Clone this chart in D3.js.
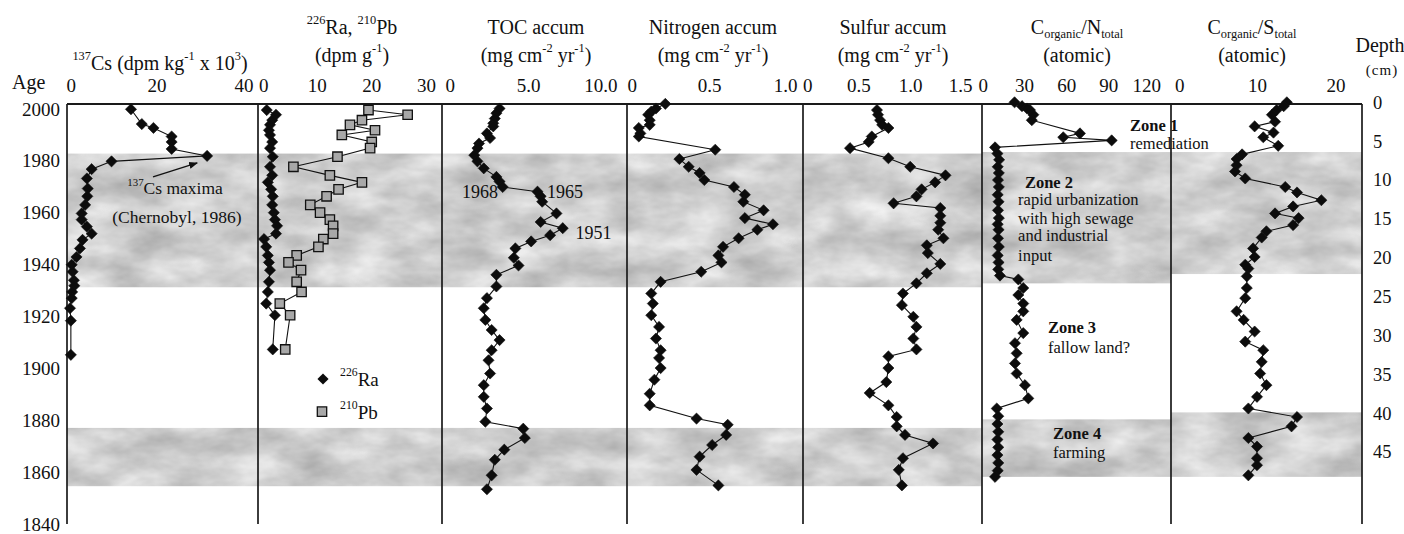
<!DOCTYPE html>
<html><head><meta charset="utf-8">
<script src="https://cdn.jsdelivr.net/npm/d3@7"></script>
<style>
body{margin:0;background:#fff}
text{font-family:"Liberation Serif","Times New Roman",serif;fill:#111}
</style>
</head><body>
<svg id="c" width="1404" height="534"></svg>
<script>
// ---------------- DATA ----------------
const ageTicks = [2000,1980,1960,1940,1920,1900,1880,1860,1840];
const depthTicks = [0,5,10,15,20,25,30,35,40,45];

const csDepth = [0.9,2.8,3.3,4.4,5.1,6.0,6.9,7.6,8.6,9.8,11.1,12.1,13.2,14.3,15.1,16.0,16.9,17.7,18.8,19.9,20.9,21.8,22.9,23.6,24.4,25.2,26.5,28.1,32.5];
const csValue = [14.1,16.6,19.3,23.5,23.5,23.5,31.7,9.6,5.0,3.9,4.1,4.0,3.5,2.7,2.7,3.9,5.0,2.9,2.3,1.5,0.4,0.6,0.9,1.0,0.5,0.4,0.0,0.2,0.2];

const raDepth = [1.0,1.6,2.3,2.9,3.6,4.2,5.1,5.9,7.0,8.3,9.4,10.3,11.2,12.1,13.2,14.2,15.1,15.9,16.9,17.6,18.6,19.7,20.6,21.6,23.1,24.4,25.9,27.4,31.8];
const raValue = [0.8,2.5,1.8,1.4,1.2,1.4,1.8,1.4,1.9,1.4,1.8,1.0,1.6,1.9,1.8,2.1,2.3,2.7,2.5,0.3,0.7,1.0,1.2,1.4,1.2,1.0,0.7,2.3,1.9];
const pbValue = [19.5,26.7,18.3,16.1,20.7,14.6,20.1,19.8,13.8,5.7,12.4,18.3,14.0,11.8,8.8,10.6,12.4,13.0,13.0,11.2,10.3,6.3,4.8,7.1,6.3,7.2,3.2,5.1,4.2];

const tocDepth = [0.8,1.4,2.1,2.7,3.1,4.0,4.6,5.3,5.9,6.8,7.6,8.5,9.6,10.2,10.9,11.5,12.1,12.8,14.3,15.4,16.2,17.1,17.9,18.8,20.0,21.0,22.2,23.7,25.2,26.5,28.0,29.3,30.6,31.9,33.2,34.9,36.4,37.9,39.4,41.1,42.0,43.2,44.7,46.0,48.0,49.8];
const tocValue = [3.2,3.0,2.9,2.8,2.8,2.4,2.6,1.9,1.8,1.6,1.8,2.2,3.0,3.2,3.4,5.6,5.8,5.9,6.8,5.8,7.2,6.4,5.2,4.2,4.1,4.4,3.0,3.0,2.4,2.2,2.3,2.7,3.2,2.7,2.5,2.6,2.2,2.2,2.4,2.3,4.7,4.8,3.5,2.9,2.7,2.4];

const nDepth = [0.2,0.8,1.2,1.6,2.3,2.9,3.3,4.0,4.4,6.1,7.3,8.3,9.1,10.0,10.9,11.9,12.8,13.9,14.9,15.7,16.4,17.5,18.6,19.7,20.6,21.8,23.1,24.6,25.9,27.4,28.9,30.4,31.9,32.9,34.2,35.7,37.5,39.0,40.7,41.5,42.8,44.1,45.6,47.3,49.3];
const nValue = [0.22,0.16,0.13,0.11,0.12,0.12,0.05,0.06,0.05,0.54,0.31,0.37,0.44,0.47,0.66,0.73,0.72,0.85,0.73,0.91,0.81,0.69,0.59,0.56,0.58,0.45,0.19,0.13,0.14,0.13,0.18,0.16,0.19,0.18,0.19,0.15,0.12,0.12,0.42,0.62,0.61,0.52,0.44,0.42,0.56];

const sDepth = [1.0,1.6,2.3,2.9,3.3,4.4,5.1,5.9,7.2,8.3,9.4,10.3,11.2,12.1,13.0,13.6,14.6,15.5,16.4,17.5,18.4,19.4,20.8,22.0,23.3,24.6,26.1,27.6,28.9,30.4,31.8,32.7,34.2,36.0,37.4,39.0,40.5,41.7,42.8,43.9,45.8,47.3,49.3];
const sValue = [0.68,0.69,0.71,0.73,0.79,0.63,0.60,0.42,0.79,1.00,1.34,1.24,1.11,1.06,0.84,1.29,1.29,1.29,1.27,1.32,1.16,1.17,1.29,1.16,1.06,0.93,0.92,1.03,1.06,1.03,1.06,0.79,0.79,0.77,0.61,0.79,0.87,0.87,0.95,1.22,0.93,0.89,0.92];

const cnDepth = [0.0,0.5,0.8,1.0,1.6,2.3,4.0,4.5,4.9,5.8,6.6,7.4,8.3,9.1,10.0,10.9,11.9,12.8,13.9,14.9,15.7,16.4,17.5,18.6,19.7,20.6,21.5,22.3,22.8,23.9,24.8,25.9,26.9,28.0,29.7,31.0,32.3,33.6,34.9,36.4,38.1,39.4,40.4,41.4,42.4,43.4,44.4,45.4,46.4,47.4,48.2];
const cnValue = [23.2,28.5,32.1,34.2,36.6,35.5,69.8,57.9,92.4,9.3,11.0,12.2,11.2,12.0,11.4,12.0,11.2,11.8,11.4,12.0,11.2,11.8,11.4,12.0,11.2,11.8,11.6,12.8,25.9,29.4,25.9,29.4,29.4,24.7,29.4,23.5,24.7,23.5,24.7,30.6,33.0,10.5,11.6,11.0,11.6,11.0,11.6,11.0,11.6,11.2,9.3];

const csrDepth = [0,0.5,1.0,1.6,2.5,3.1,3.9,4.5,5.6,6.7,7.3,8.1,8.9,9.8,10.9,11.6,12.6,13.4,14.3,14.9,15.8,16.6,17.4,18.8,19.9,20.9,21.4,22.4,23.9,25.2,26.9,28.0,29.5,30.8,31.9,33.4,34.9,36.4,37.9,39.4,40.5,41.7,43.2,44.3,45.8,46.7,48.0];
const csrValue = [13.8,13.4,12.5,11.9,12.3,9.7,12.1,10.8,12.7,8.1,7.4,7.4,7.2,8.5,13.6,15.1,18.2,14.6,12.3,15.3,14.6,11.2,10.6,9.5,9.7,8.5,8.9,8.7,8.7,8.5,7.4,8.3,9.7,8.5,10.8,10.6,10.4,11.2,10.0,8.9,15.1,14.4,8.9,10.0,10.0,10.0,8.9];

// zone bands (depth cm) per panel
const zoneBands = [
  [[6.6,23.8],[41.9,49.4]],
  [[6.6,23.8],[41.9,49.4]],
  [[6.6,23.8],[41.9,49.4]],
  [[6.6,23.8],[41.9,49.4]],
  [[6.6,23.8],[41.9,49.4]],
  [[6.4,23.3],[40.8,48.2]],
  [[6.4,22.1],[39.9,48.2]]
];

// ---------------- LAYOUT ----------------
const panels = [
  {L:67,  R:258,  dom:[0,40],  rng:[70,243],       ticks:[0,20,40],        fmt:d=>String(d), tx:160, title:["^{137}Cs (dpm kg^{-1} x 10^{3})"], single:true},
  {L:258, R:442,  dom:[0,30],  rng:[262.4,425.6],  ticks:[0,10,20,30],     fmt:d=>String(d), tx:352, title:["^{226}Ra, ^{210}Pb","(dpm g^{-1})"]},
  {L:442, R:627,  dom:[0,10],  rng:[449,607],      ticks:[0,5,10],         fmt:d=>d===0?"0":d.toFixed(1), tx:536, title:["TOC accum","(mg cm^{-2} yr^{-1})"]},
  {L:627, R:803,  dom:[0,1],   rng:[631,787],      ticks:[0,0.5,1],        fmt:d=>d===0?"0":d.toFixed(1), tx:713, title:["Nitrogen accum","(mg cm^{-2} yr^{-1})"]},
  {L:803, R:982,  dom:[0,1.5], rng:[806.4,962.1],  ticks:[0,0.5,1,1.5],    fmt:d=>d===0?"0":d.toFixed(1), tx:893, title:["Sulfur accum","(mg cm^{-2} yr^{-1})"]},
  {L:982, R:1171, dom:[0,120], rng:[982,1150.4],   ticks:[0,30,60,90,120], fmt:d=>String(d), tx:1077, title:["C_{organic}/N_{total}","(atomic)"]},
  {L:1171,R:1362, dom:[0,20],  rng:[1178.5,1335.5],ticks:[0,10,20],        fmt:d=>String(d), tx:1252, title:["C_{organic}/S_{total}","(atomic)"]}
];
panels.forEach(p=>{ p.x = d3.scaleLinear().domain(p.dom).range(p.rng); });

const yD = d3.scaleLinear().domain([0,45]).range([102.3,452]);
const yA = d3.scaleLinear().domain([2000,1840]).range([109,524]);
const TOP = 104, BOT = 524;
const SERIF = '"Liberation Serif","Times New Roman",serif';

const svg = d3.select('#c');
const defs = svg.append('defs');
const f = defs.append('filter').attr('id','marble').attr('x',0).attr('y',0).attr('width',1).attr('height',1)
  .attr('color-interpolation-filters','sRGB');
f.append('feTurbulence').attr('type','fractalNoise').attr('baseFrequency','0.018 0.035').attr('numOctaves',4).attr('seed',11).attr('result','n');
f.append('feColorMatrix').attr('in','n').attr('type','matrix')
 .attr('values','0.34 0 0 0 0.64  0.34 0 0 0 0.64  0.34 0 0 0 0.64  0 0 0 0 1').attr('result','g');
f.append('feComposite').attr('in','g').attr('in2','SourceGraphic').attr('operator','in');
defs.append('marker').attr('id','arr').attr('viewBox','0 0 10 10').attr('refX',9).attr('refY',5)
  .attr('markerWidth',9).attr('markerHeight',9).attr('orient','auto').attr('markerUnits','userSpaceOnUse')
  .append('path').attr('d','M0,1 L10,5 L0,9 Z').attr('fill','#111');

// rich text helper: ^{..} superscript, _{..} subscript
function rich(g, x, y, str, size, anchor, weight){
  const t = g.append('text').attr('x',x).attr('y',y).attr('font-size',size)
    .attr('text-anchor',anchor||'middle').attr('dominant-baseline','central');
  if(weight) t.attr('font-weight',weight);
  str.split(/(\^\{[^}]*\}|_\{[^}]*\})/).filter(s=>s.length).forEach(s=>{
    if(s[0]==='^'){ t.append('tspan').attr('font-size',size*0.62).attr('baseline-shift','super').text(s.slice(2,-1)); }
    else if(s[0]==='_'){ t.append('tspan').attr('font-size',size*0.62).attr('baseline-shift','sub').text(s.slice(2,-1)); }
    else t.append('tspan').text(s);
  });
  return t;
}

// bands
const gb = svg.append('g');
panels.forEach((p,i)=>{
  zoneBands[i].forEach(b=>{
    gb.append('rect').attr('x',p.L).attr('width',p.R-p.L)
      .attr('y',yD(b[0])).attr('height',yD(b[1])-yD(b[0]))
      .attr('fill','#d0d0d0').attr('filter','url(#marble)');
  });
});

// frame
const gf = svg.append('g').attr('stroke','#1a1a1a');
gf.append('line').attr('x1',panels[0].L).attr('x2',panels[6].R).attr('y1',TOP).attr('y2',TOP).attr('stroke-width',2);
const edges = [panels[0].L].concat(panels.map(p=>p.R));
edges.forEach(x=>gf.append('line').attr('x1',x).attr('x2',x).attr('y1',TOP).attr('y2',BOT).attr('stroke-width',1.7));

// top axes and titles
panels.forEach((p,i)=>{
  const ax = d3.axisTop(p.x).tickValues(p.ticks).tickSize(0).tickPadding(0).tickFormat(p.fmt);
  const g = svg.append('g').attr('transform','translate(0,91.5)').call(ax);
  g.select('.domain').remove();
  g.selectAll('text').attr('font-family',SERIF).attr('font-size',19).attr('fill','#111');
  g.selectAll('.tick text').attr('text-anchor',(d,j)=> j===0 ? 'start' : (j===p.ticks.length-1 && i<6 ? 'end':'middle'))
    .attr('dx',(d,j)=> j===0 ? -4 : (j===p.ticks.length-1 && i<6 ? 10 : 0));
  if(p.single){ rich(svg, p.tx, 63, p.title[0], 20); }
  else { rich(svg, p.tx, 27, p.title[0], 20); rich(svg, p.tx, 55, p.title[1], 20); }
});

// left age axis
const ga = svg.append('g').attr('transform','translate(60,0)').call(d3.axisLeft(yA).tickValues(ageTicks).tickSize(0).tickPadding(0).tickFormat(d3.format('d')));
ga.select('.domain').remove();
ga.selectAll('text').attr('font-family',SERIF).attr('font-size',19).attr('fill','#111');
svg.append('text').attr('x',12).attr('y',82).attr('font-size',20).attr('dominant-baseline','central').text('Age');

// right depth axis
const gd = svg.append('g').attr('transform','translate(1373,0)').call(d3.axisRight(yD).tickValues(depthTicks).tickSize(0).tickPadding(0));
gd.select('.domain').remove();
gd.selectAll('text').attr('font-family',SERIF).attr('font-size',18.5).attr('fill','#111');
svg.append('text').attr('x',1380).attr('y',45).attr('font-size',20).attr('text-anchor','middle').attr('dominant-baseline','central').text('Depth');
svg.append('text').attr('x',1382).attr('y',70).attr('font-size',15).attr('text-anchor','middle').attr('dominant-baseline','central').attr('letter-spacing',1).text('(cm)');

// series
const series = [
  {p:0, d:csDepth, v:csValue, m:'dia'},
  {p:1, d:raDepth, v:raValue, m:'dia'},
  {p:1, d:raDepth, v:pbValue, m:'sq'},
  {p:2, d:tocDepth, v:tocValue, m:'dia'},
  {p:3, d:nDepth, v:nValue, m:'dia'},
  {p:4, d:sDepth, v:sValue, m:'dia'},
  {p:5, d:cnDepth, v:cnValue, m:'dia'},
  {p:6, d:csrDepth, v:csrValue, m:'dia'}
];
const dia = d3.symbol().type(d3.symbolSquare).size(62)();
const sq = d3.symbol().type(d3.symbolSquare).size(88)();
const gl = svg.append('g'), gm = svg.append('g');
series.forEach(s=>{
  const x = panels[s.p].x;
  const idx = d3.range(s.v.length);
  gl.append('path').attr('d', d3.line().x(i=>x(s.v[i])).y(i=>yD(s.d[i]))(idx))
    .attr('fill','none').attr('stroke','#111').attr('stroke-width',1.1);
  gm.selectAll(null).data(idx).join('path')
    .attr('d', s.m==='sq'? sq : dia)
    .attr('transform', i=>`translate(${x(s.v[i])},${yD(s.d[i])})` + (s.m==='sq'?'':' rotate(45)'))
    .attr('fill', s.m==='sq' ? '#a8a8a8' : '#0c0c0c')
    .attr('stroke', '#111').attr('stroke-width', s.m==='sq'?1.3:0.6);
});

// legend (panel 2)
const lp = panels[1];
const lg = svg.append('g');
lg.append('path').attr('d',dia).attr('transform',`translate(${lp.L+65},${yD(35.6)}) rotate(45)`).attr('fill','#0c0c0c');
rich(lg, lp.L+82, yD(35.6), '^{226}Ra', 19, 'start');
lg.append('path').attr('d',sq).attr('transform',`translate(${lp.L+64},${yD(39.8)})`).attr('fill','#a8a8a8').attr('stroke','#111').attr('stroke-width',1.3);
rich(lg, lp.L+82, yD(39.8), '^{210}Pb', 19, 'start');

// annotations
const pc = panels[0].x;
svg.append('line').attr('x1',pc(19.2)).attr('y1',yD(9.6)).attr('x2',pc(29.4)).attr('y2',yD(7.8))
  .attr('stroke','#111').attr('stroke-width',1.3).attr('marker-end','url(#arr)');
rich(svg, pc(24.3), yD(11.0), '^{137}Cs maxima', 17.5);
rich(svg, pc(24.7), yD(14.8), '(Chernobyl, 1986)', 17.5);

const pt = panels[2].x;
svg.append('text').attr('x',pt(3.1)).attr('y',yD(11.55)).attr('font-size',18).attr('text-anchor','end').attr('dominant-baseline','central').text('1968');
svg.append('text').attr('x',pt(6.2)).attr('y',yD(11.55)).attr('font-size',18).attr('dominant-baseline','central').text('1965');
svg.append('text').attr('x',pt(8.0)).attr('y',yD(16.8)).attr('font-size',18).attr('dominant-baseline','central').text('1951');

const pn = panels[5].x;
const zoneText = [
  [105.5,3.0,'Zone 1',true],[105.5,5.25,'remediation',false],
  [30.6,10.3,'Zone 2',true],[25.7,12.45,'rapid urbanization',false],[25.7,14.9,'with high sewage',false],[25.7,17.2,'and industrial',false],[25.7,19.65,'input',false],
  [47,29.0,'Zone 3',true],[47,31.5,'fallow land?',false],
  [50.6,42.6,'Zone 4',true],[50.6,45.1,'farming',false]
];
zoneText.forEach(z=>{
  svg.append('text').attr('x',pn(z[0])).attr('y',yD(z[1])).attr('font-size',16.5)
    .attr('font-weight',z[3]?'bold':'normal').attr('dominant-baseline','central').text(z[2]);
});
</script>
</body></html>
